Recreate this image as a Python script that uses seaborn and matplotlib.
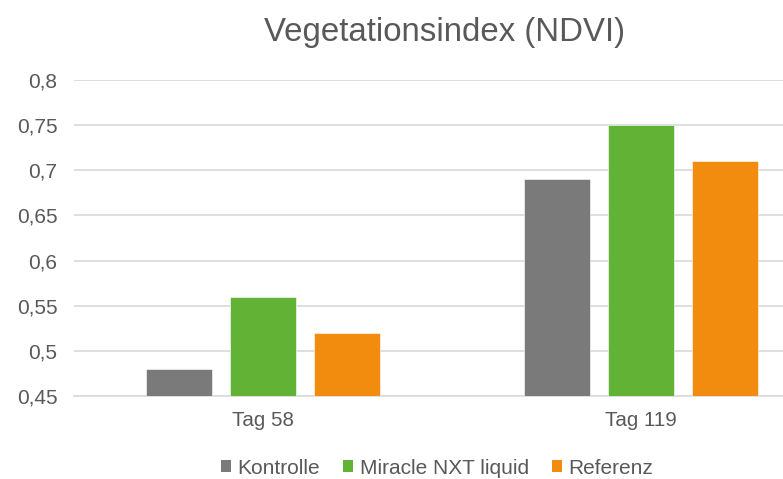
import matplotlib
matplotlib.use("Agg")
import matplotlib.pyplot as plt
import matplotlib.ticker as mticker
from matplotlib.patches import Patch
import seaborn as sns
import pandas as pd

days = ['Tag 58', 'Tag 119']
groups = ['Kontrolle', 'Miracle NXT liquid', 'Referenz']
kontrolle = [0.48, 0.69]
miracle = [0.56, 0.75]
referenz = [0.52, 0.71]
colors = ['#7a7a7a', '#62b236', '#f28c0e']
yticks = [0.45, 0.5, 0.55, 0.6, 0.65, 0.7, 0.75, 0.8]

sns.set_theme(style='white')
plt.rcParams['font.family'] = ['Liberation Sans', 'DejaVu Sans']
text_col = '#595959'

rows = []
for g, vals in zip(groups, [kontrolle, miracle, referenz]):
    for d, v in zip(days, vals):
        rows.append({'day': d, 'group': g, 'ndvi': v})
df = pd.DataFrame(rows)

fig = plt.figure(figsize=(7.83, 4.79), dpi=100)
ax = fig.add_axes([74/783, 83/479, 756/783, 316/479])

sns.barplot(data=df, x='day', y='ndvi', hue='group', hue_order=groups,
            palette=colors, width=0.667, gap=0.214, legend=False,
            saturation=1, edgecolor='white', linewidth=0.4, ax=ax, zorder=3)

ax.set_ylim(0.45, 0.8)
ax.set_xlim(-0.5, 1.5)
ax.set_yticks(yticks)
ax.yaxis.set_major_formatter(mticker.FuncFormatter(lambda v, p: f"{v:g}".replace('.', ',')))
ax.grid(axis='y', color='#d9d9d9', linewidth=1.2, zorder=0)
ax.set_axisbelow(True)
for s in ['top', 'right', 'left']:
    ax.spines[s].set_visible(False)
ax.spines['bottom'].set_color('#d9d9d9')
ax.spines['bottom'].set_linewidth(1.2)
ax.tick_params(axis='y', length=0, pad=12, labelsize=15, labelcolor=text_col)
ax.tick_params(axis='x', length=0, pad=11, labelsize=14.8, labelcolor=text_col)
ax.set_xlabel('')
ax.set_ylabel('')

fig.text(445/783, 1 - 33/479, 'Vegetationsindex (NDVI)', ha='center', va='center',
         fontsize=23.8, color=text_col)

handles = [Patch(facecolor=c, edgecolor='none') for c in colors]
fig.legend(handles, groups, loc='center', bbox_to_anchor=(437/783, 11/479), ncol=3,
           frameon=False, fontsize=15, labelcolor=text_col, handlelength=0.5,
           handleheight=0.5, handletextpad=0.3, columnspacing=1.1, borderpad=0)

fig.savefig('out.png', dpi=100)
